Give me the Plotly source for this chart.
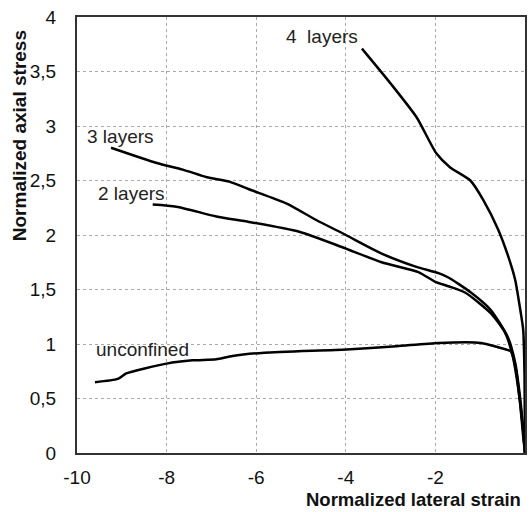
import plotly.graph_objects as go

# Data
x_4layers = [-3.64, -3.0, -2.42, -1.98, -1.67, -1.22, -0.93, -0.6, -0.38, -0.22, -0.1, -0.04, -0.01, 0.0]
y_4layers = [3.71, 3.39, 3.08, 2.75, 2.62, 2.50, 2.32, 2.05, 1.81, 1.59, 1.30, 1.13, 0.70, 0.0]

x_3layers = [-9.24, -8.22, -7.64, -7.1, -6.6, -6.16, -5.33, -4.67, -4.0, -3.2, -2.44, -1.93, -1.71, -1.2, -0.76, -0.38, -0.22, -0.11, -0.04, 0.0]
y_3layers = [2.80, 2.66, 2.60, 2.53, 2.49, 2.42, 2.29, 2.14, 2.00, 1.83, 1.71, 1.65, 1.61, 1.47, 1.31, 1.06, 0.83, 0.51, 0.21, 0.0]

x_2layers = [-8.31, -7.78, -6.89, -6.16, -5.04, -4.09, -3.2, -2.38, -2.0, -1.71, -1.33, -0.76, -0.44, -0.27, -0.12, -0.04, 0.0]
y_2layers = [2.28, 2.26, 2.17, 2.12, 2.03, 1.89, 1.75, 1.66, 1.57, 1.53, 1.47, 1.28, 1.10, 0.88, 0.50, 0.20, 0.0]

x_unconf = [-9.6, -9.09, -8.9, -8.0, -7.42, -6.89, -6.53, -5.82, -3.98, -2.87, -1.93, -0.98, -0.6, -0.31, -0.2, -0.11, -0.04, 0.0]
y_unconf = [0.65, 0.68, 0.73, 0.82, 0.85, 0.86, 0.89, 0.92, 0.95, 0.98, 1.01, 1.01, 0.97, 0.93, 0.76, 0.46, 0.15, 0.0]

series_names = ["4  layers", "3 layers", "2 layers", "unconfined"]
label_x = [-4.53, -9.04, -8.78, -8.53]
label_y = [3.82, 2.90, 2.38, 0.95]

x_ticks = [-10, -8, -6, -4, -2, 0]
x_ticktext = ["-10", "-8", "-6", "-4", "-2", "0"]
y_ticks = [0, 0.5, 1, 1.5, 2, 2.5, 3, 3.5, 4]
y_ticktext = ["0", "0,5", "1", "1,5", "2", "2,5", "3", "3,5", "4"]

FONT = "Liberation Sans, Arial"

fig = go.Figure()
for xs, ys in [(x_4layers, y_4layers), (x_3layers, y_3layers), (x_2layers, y_2layers), (x_unconf, y_unconf)]:
    fig.add_trace(go.Scatter(x=xs, y=ys, mode="lines",
                             line=dict(color="black", width=2.5, shape="spline", smoothing=0.6),
                             showlegend=False, hoverinfo="skip", cliponaxis=False))

for name, lx, ly in zip(series_names, label_x, label_y):
    fig.add_annotation(x=lx, y=ly, text=name, showarrow=False,
                       font=dict(family=FONT, size=19, color="#222"))

fig.add_annotation(xref="paper", yref="paper", x=0.995, y=-0.1067, xanchor="right", yanchor="middle",
                   text="<b>Normalized lateral strain</b>", showarrow=False,
                   font=dict(family=FONT, size=18.5, color="#111"))
fig.add_annotation(xref="paper", yref="paper", x=-0.129, y=0.727, xanchor="center", yanchor="middle",
                   text="<b>Normalized axial stress</b>", showarrow=False, textangle=-90,
                   font=dict(family=FONT, size=19, color="#111"))

axis_common = dict(showgrid=True, gridcolor="#aaaaaa", griddash="dot", gridwidth=1,
                   showline=True, linecolor="#333", linewidth=2, mirror=True,
                   ticks="", zeroline=False,
                   tickfont=dict(family=FONT, size=19, color="#111"))

fig.update_xaxes(range=[-10, 0], tickvals=x_ticks, ticktext=x_ticktext, ticklabelstandoff=6, **axis_common)
fig.update_yaxes(range=[0, 4], tickvals=y_ticks, ticktext=y_ticktext, ticklabelstandoff=15, **axis_common)

fig.update_layout(width=530, height=512, margin=dict(l=77, r=3, t=17, b=59),
                  plot_bgcolor="white", paper_bgcolor="white")

fig.write_html("out.html")
